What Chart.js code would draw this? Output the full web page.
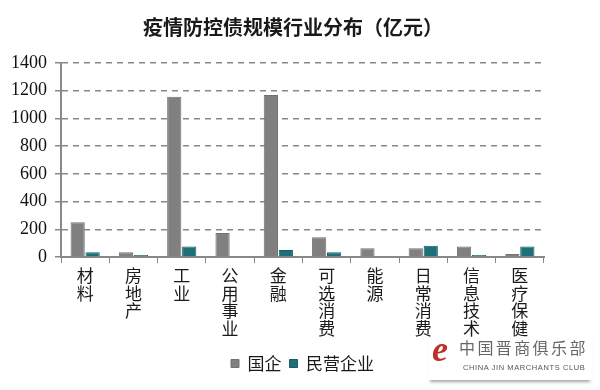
<!DOCTYPE html>
<html>
<head>
<meta charset="utf-8">
<script src="https://cdn.jsdelivr.net/npm/chart.js@4"></script>
<style>
  body { margin: 0; background: #fff; }
  #wrap { position: relative; width: 600px; height: 390px; }
  #mark { position: absolute; left: 428px; top: 334px; width: 164px; height: 46px;
          box-shadow: 0 4px 3px -2px rgba(0,0,0,0.35); }
  #mark .e { position: absolute; left: 4px; top: -6px; font: italic bold 36px "Liberation Serif", serif; color: #c0302a; }
  #mark .cn { position: absolute; left: 31px; top: 1px; font: 16px "Noto Sans CJK SC", sans-serif; color: #666; letter-spacing: 2.4px; white-space: nowrap; }
  #mark .en { position: absolute; left: 35px; top: 29px; font: 7.5px "Liberation Sans", sans-serif; color: #555; letter-spacing: 0.6px; white-space: nowrap; }
</style>
</head>
<body>
<div id="wrap">
  <canvas id="bar-chartcanvas" width="600" height="390"></canvas>
  <div id="mark"><span class="e">e</span><span class="cn">中国晋商俱乐部</span><span class="en">CHINA JIN MARCHANTS CLUB</span></div>
</div>
<script>
const categories = ['材料', '房地产', '工业', '公用事业', '金融', '可选消费', '能源', '日常消费', '信息技术', '医疗保健'];
const stateOwned = [250, 34, 1157, 173, 1169, 142, 63, 63, 75, 22];
const privateOwned = [34, 15, 75, 0, 50, 34, 0, 82, 15, 75];
const yTicks = [0, 200, 400, 600, 800, 1000, 1200, 1400];

const ctx = document.getElementById('bar-chartcanvas');
const myChart = new Chart(ctx, {
    type: 'bar',
    data: {
        labels: categories.map(c => c.split('')),
        datasets: [{
            label: '国企',
            data: stateOwned,
            backgroundColor: '#808080',
            borderColor: '#727272',
            borderWidth: 1,
            categoryPercentage: 0.62,
            barPercentage: 0.95,
        }, {
            label: '民营企业',
            data: privateOwned,
            backgroundColor: '#1d6f78',
            borderColor: '#175d64',
            borderWidth: 1,
            categoryPercentage: 0.62,
            barPercentage: 0.95,
        }]
    },
    options: {
        responsive: false,
        animation: false,
        layout: {
            padding: { left: 6, right: 20, top: 4, bottom: 8 }
        },
        plugins: {
            title: {
                display: true,
                text: '疫情防控债规模行业分布（亿元）',
                color: '#1a1a1a',
                font: { family: 'Noto Sans CJK SC', size: 20, weight: 'bold', lineHeight: 1.2 },
                padding: { top: 11, bottom: 24 },
            },
            legend: {
                position: 'bottom',
                fullSize: false,
                labels: {
                    boxWidth: 8,
                    boxHeight: 8,
                    color: '#1a1a1a',
                    font: { family: 'Noto Sans CJK SC', size: 17 },
                    padding: 8,
                },
            },
            tooltip: { enabled: false },
        },
        scales: {
            x: {
                afterFit: axis => { axis.height = 90; },
                grid: {
                    display: true,
                    drawOnChartArea: false,
                    color: '#888',
                    tickLength: 6,
                },
                border: { color: '#888', width: 2 },
                ticks: {
                    color: '#1a1a1a',
                    maxRotation: 0,
                    autoSkip: false,
                    padding: 4,
                    font: { family: 'Noto Sans CJK SC', size: 17, lineHeight: 1.03 },
                },
            },
            y: {
                min: yTicks[0],
                max: yTicks[yTicks.length - 1],
                afterBuildTicks: axis => { axis.ticks = yTicks.map(v => ({ value: v })); },
                afterFit: axis => { axis.width = 55; },
                grid: {
                    color: ctx => ctx.tick && ctx.tick.value === 0 ? 'rgba(0,0,0,0)' : '#888',
                    lineWidth: 1.5,
                    tickLength: 6,
                    tickColor: '#888',
                },
                border: { color: '#888', width: 2, dash: [6, 5] },
                ticks: {
                    color: '#111',
                    padding: 8,
                    font: { family: 'Liberation Serif', size: 18 },
                    callback: v => String(v),
                },
            },
            // empty right-hand spacer so the plot ends where the original's does
            spacer: {
                type: 'linear',
                position: 'right',
                afterFit: axis => { axis.width = 36; },
                grid: { display: false },
                border: { display: false },
                ticks: { display: false },
            }
        }
    }
});
</script>
</body>
</html>
